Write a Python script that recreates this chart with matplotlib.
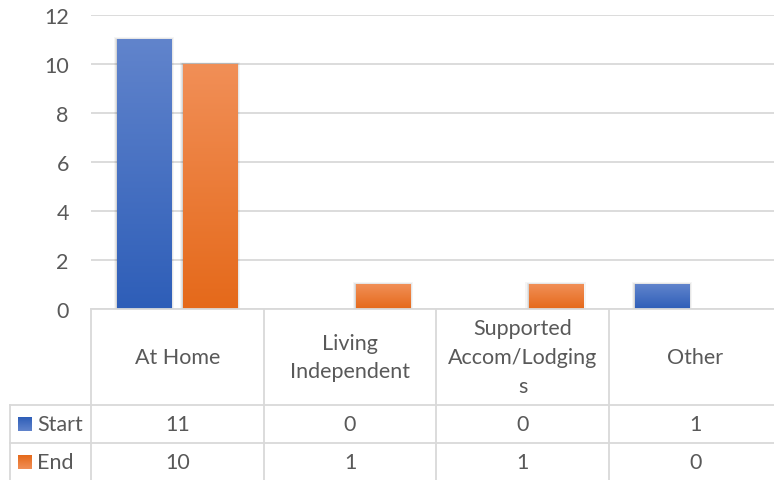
import numpy as np
import matplotlib.pyplot as plt
from matplotlib.colors import LinearSegmentedColormap
from matplotlib.patches import Rectangle

categories = ["At Home", "Living\nIndependent", "Supported\nAccom/Lodging\ns", "Other"]
series_names = ["Start", "End"]
start_vals = [11, 0, 0, 1]
end_vals = [10, 1, 1, 0]

blue_grad = LinearSegmentedColormap.from_list("b", ["#2e5eb8", "#6184cc"])
orange_grad = LinearSegmentedColormap.from_list("o", ["#e5691a", "#f18f57"])
text_col = "#595959"
line_col = "#d9d9d9"
fs = 15.5

plt.rcParams["font.family"] = ["Lato", "DejaVu Sans"]

W, H = 774, 481
fig = plt.figure(figsize=(W / 100, H / 100), dpi=100)

# plot area in pixels
x0, x1 = 91, 774
y_top, y_zero = 16, 310
col_w = 172.7
ax = fig.add_axes([x0 / W, (H - y_zero) / H, (x1 - x0) / W, (y_zero - y_top) / H])
ax.set_yticks(range(0, 13, 2))
ax.tick_params(axis="y", length=0, pad=16, labelsize=fs, labelcolor=text_col)
ax.set_xticks([])
for s in ax.spines.values():
    s.set_visible(False)
ax.grid(axis="y", color=line_col, linewidth=1.3)
ax.set_axisbelow(True)

bw = 0.313
offs = [-0.194, 0.19]
grad = np.linspace(0, 1, 256).reshape(-1, 1)
for vals, off, cm in [(start_vals, offs[0], blue_grad), (end_vals, offs[1], orange_grad)]:
    for i, v in enumerate(vals):
        if v <= 0:
            continue
        left = i + off - bw / 2
        # soft shadow
        for k, a in [(0.03, 0.04), (0.018, 0.06), (0.008, 0.08)]:
            ax.add_patch(Rectangle((left - k * 0.6, -0.15), bw + 2 * k * 0.6, v + 0.15 + k * 3,
                                   facecolor="black", alpha=a, linewidth=0, zorder=2))
        ax.imshow(grad, cmap=cm, origin="lower", aspect="auto",
                  extent=(left, left + bw, 0, v), zorder=3)
ax.set_xlim(-0.5, -0.5 + (x1 - x0) / col_w)
ax.set_ylim(0, 12)

# data table drawn in figure pixel coords
tab = fig.add_axes([0, 0, 1, 1], facecolor="none")
tab.axis("off")
lw = 1.3
row_y = [310, 406, 443.5, 481]
tab.plot([x0, W], [row_y[0], row_y[0]], color=line_col, lw=lw)
tab.plot([10, W], [row_y[1], row_y[1]], color=line_col, lw=lw)
tab.plot([10, W], [row_y[2], row_y[2]], color=line_col, lw=lw)
tab.plot([10, 10], [row_y[1], H], color=line_col, lw=lw)
for j in range(4):
    cx = x0 + j * col_w
    tab.plot([cx, cx], [row_y[0], H], color=line_col, lw=lw)

for j, cat in enumerate(categories):
    cx = x0 + (j + 0.5) * col_w
    tab.text(cx, 358, cat, ha="center", va="center", fontsize=fs, color=text_col,
             linespacing=1.55)
    tab.text(cx, 425, str(start_vals[j]), ha="center", va="center", fontsize=fs, color=text_col)
    tab.text(cx, 463, str(end_vals[j]), ha="center", va="center", fontsize=fs, color=text_col)

for name, yc, cm in [(series_names[0], 425, blue_grad), (series_names[1], 463, orange_grad)]:
    tab.imshow(grad, cmap=cm, origin="upper", aspect="auto",
               extent=(18, 32, yc + 7, yc - 7))
    tab.text(37, yc, name, ha="left", va="center", fontsize=fs, color=text_col)
tab.set_xlim(0, W)
tab.set_ylim(H, 0)

fig.savefig("out.png", dpi=100)
